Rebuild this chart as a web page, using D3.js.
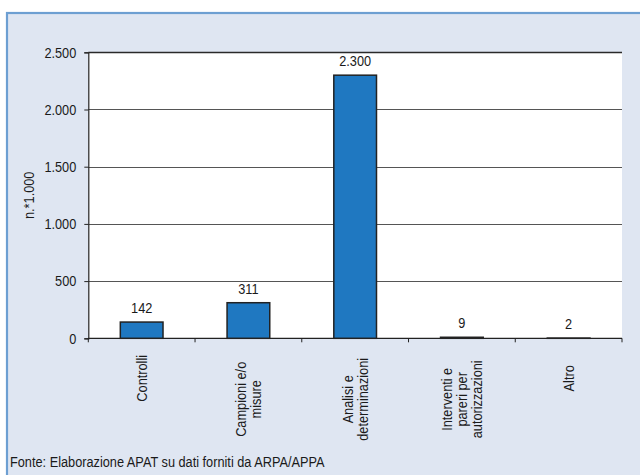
<!DOCTYPE html>
<html>
<head>
<meta charset="utf-8">
<script src="https://cdn.jsdelivr.net/npm/d3@7"></script>
<style>
  html, body { margin: 0; padding: 0; background: #ffffff; }
  svg { display: block; }
  text { font-family: "Liberation Sans", Arial, sans-serif; fill: #1a1a1a; }
</style>
</head>
<body>
<svg id="chart" width="640" height="475"></svg>
<script>
// ---- data ----
const categories = ["Controlli", "Campioni e/o misure", "Analisi e determinazioni", "Interventi e pareri per autorizzazioni", "Altro"];
const categoryLines = [["Controlli"], ["Campioni e/o", "misure"], ["Analisi e", "determinazioni"], ["Interventi e", "pareri per", "autorizzazioni"], ["Altro"]];
const values = [142, 311, 2300, 9, 2];
const valueLabels = ["142", "311", "2.300", "9", "2"];
const yTicks = [0, 500, 1000, 1500, 2000, 2500];
const yTickLabels = ["0", "500", "1.000", "1.500", "2.000", "2.500"];
const yAxisTitle = "n.*1.000";
const sourceNote = "Fonte: Elaborazione APAT su dati forniti da ARPA/APPA";

// ---- layout ----
const W = 640, H = 475;
const FS = 15, SX = 0.85;
const plot = { left: 88.3, right: 622, top: 52.3, bottom: 338.3 };
const svg = d3.select("#chart");

// panel background with blue border
svg.append("rect").attr("x", 0).attr("y", 0).attr("width", W).attr("height", H).attr("fill", "#ffffff");
svg.append("rect").attr("x", 7).attr("y", 13).attr("width", W + 10).attr("height", H + 10)
  .attr("fill", "#dfe6f2").attr("stroke", "#6d9fd2").attr("stroke-width", 2.2);

// plot area
svg.append("rect").attr("x", plot.left).attr("y", plot.top)
  .attr("width", plot.right - plot.left).attr("height", plot.bottom - plot.top).attr("fill", "#ffffff");

const x = d3.scaleBand().domain(categories).range([plot.left, plot.right]).paddingInner(0.6).paddingOuter(0.3);
const xBand = d3.scaleBand().domain(categories).range([plot.left, plot.right]).padding(0);
const y = d3.scaleLinear().domain([0, 2500]).range([plot.bottom, plot.top]);

// gridlines
svg.append("g").selectAll("line").data(yTicks.filter(d => d > 0)).join("line")
  .attr("x1", plot.left).attr("x2", plot.right)
  .attr("y1", d => Math.round(y(d)) + 0.5).attr("y2", d => Math.round(y(d)) + 0.5)
  .attr("stroke", d => d === 2500 ? "#2a2a2a" : "#555555").attr("stroke-width", d => d === 2500 ? 1.6 : 1);

// y axis
const yAxis = d3.axisLeft(y).tickValues(yTicks).tickFormat((d, i) => yTickLabels[i]).tickSize(4).tickPadding(8);
const gy = svg.append("g").attr("transform", `translate(${plot.left},0)`).call(yAxis);
gy.select(".domain").attr("stroke", "#222").attr("stroke-width", 1.2);
gy.selectAll(".tick line").attr("stroke", "#222");
gy.selectAll(".tick text")
  .attr("font-size", FS).attr("font-family", null).attr("fill", "#1a1a1a")
  .attr("x", 0).attr("transform", `translate(-12,0) scale(${SX},1)`);

// x axis with tick marks at band boundaries
const boundaries = categories.map(c => xBand(c)).concat([plot.right]);
svg.append("line").attr("x1", plot.left).attr("x2", plot.right)
  .attr("y1", plot.bottom).attr("y2", plot.bottom).attr("stroke", "#222").attr("stroke-width", 1.2);
svg.append("g").selectAll("line").data(boundaries).join("line")
  .attr("x1", d => d).attr("x2", d => d).attr("y1", plot.bottom).attr("y2", plot.bottom + 4)
  .attr("stroke", "#222");

// bars
svg.append("g").selectAll("rect").data(values).join("rect")
  .attr("x", (d, i) => x(categories[i]))
  .attr("width", x.bandwidth())
  .attr("y", d => y(d))
  .attr("height", d => Math.max(0, y(0) - y(d)))
  .attr("fill", "#1f78c1").attr("stroke", "#222").attr("stroke-width", 1.5);

// value labels
svg.append("g").selectAll("text").data(values).join("text")
  .attr("transform", (d, i) => `translate(${xBand(categories[i]) + xBand.bandwidth() / 2},${y(d) - 9}) scale(${SX},1)`)
  .attr("text-anchor", "middle").attr("font-size", FS)
  .text((d, i) => valueLabels[i]);

// category labels (rotated, multi-line, centered)
const lh = 15;
categoryLines.forEach((lines, i) => {
  const cx = xBand(categories[i]) + xBand.bandwidth() / 2;
  const cy = plot.bottom + (lines.length > 1 ? 61 : 40);
  const g = svg.append("g").attr("transform", `translate(${cx},${cy}) rotate(-90) scale(${SX},1)`);
  lines.forEach((ln, j) => {
    g.append("text").attr("x", 0).attr("y", (j - (lines.length - 1) / 2) * lh)
      .attr("dy", "0.35em").attr("text-anchor", "middle").attr("font-size", FS).text(ln);
  });
});

// y axis title
svg.append("text").attr("transform", `translate(34,${(plot.top + plot.bottom) / 2}) rotate(-90) scale(${SX},1)`)
  .attr("text-anchor", "middle").attr("font-size", FS).text(yAxisTitle);

// source note
svg.append("text").attr("transform", `translate(10,467) scale(${SX},1)`).attr("font-size", FS).text(sourceNote);
</script>
</body>
</html>
